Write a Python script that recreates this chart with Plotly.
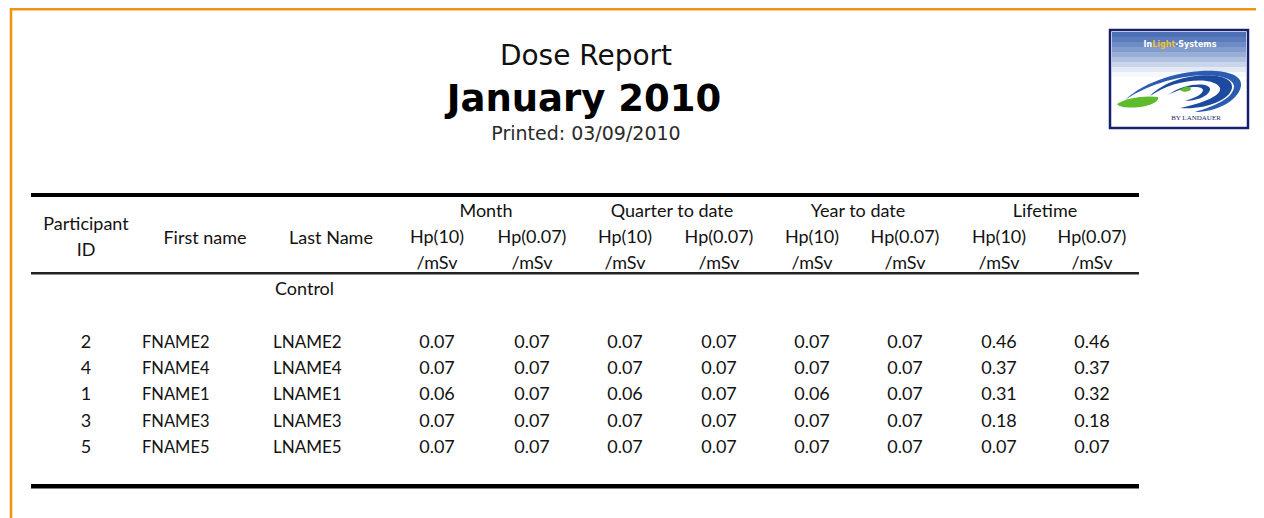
import plotly.graph_objects as go

# ---------------- data ----------------
report_title = "Dose Report"
report_period = "January 2010"
printed_label = "Printed: 03/09/2010"

group_labels = ["Month", "Quarter to date", "Year to date", "Lifetime"]
dose_labels = ["Hp(10)", "Hp(0.07)"]
unit_label = "/mSv"
section_label = "Control"

participant_ids = ["2", "4", "1", "3", "5"]
first_names = ["FNAME2", "FNAME4", "FNAME1", "FNAME3", "FNAME5"]
last_names = ["LNAME2", "LNAME4", "LNAME1", "LNAME3", "LNAME5"]
month_hp10 = [0.07, 0.07, 0.06, 0.07, 0.07]
month_hp007 = [0.07, 0.07, 0.07, 0.07, 0.07]
quarter_hp10 = [0.07, 0.07, 0.06, 0.07, 0.07]
quarter_hp007 = [0.07, 0.07, 0.07, 0.07, 0.07]
year_hp10 = [0.07, 0.07, 0.06, 0.07, 0.07]
year_hp007 = [0.07, 0.07, 0.07, 0.07, 0.07]
life_hp10 = [0.46, 0.37, 0.31, 0.18, 0.07]
life_hp007 = [0.46, 0.37, 0.32, 0.18, 0.07]

# ---------------- layout constants ----------------
OFF = 8  # page body margin
W, H = 1264, 518
DY = 2.5  # text baseline correction
TXT = "#121212"
TFONT = "Lato, 'Liberation Sans', sans-serif"
HSIZE = 18
row_y = [341, 367, 393, 420, 446]
dose_cols_x = [437, 532, 625, 719, 812, 905, 999, 1092]
group_x = [486, 672, 858, 1045]

fig = go.Figure()


def add_text(xs, ys, texts, pos="middle center", size=HSIZE, color=TXT, family=TFONT):
    fig.add_trace(go.Scatter(
        x=xs, y=[v + DY for v in ys], text=texts, mode="text", textposition=pos,
        textfont=dict(size=size, color=color, family=family),
        hoverinfo="skip", showlegend=False, cliponaxis=False))


TITLE_FONT = "'DejaVu Sans', Verdana, sans-serif"
# Titles
add_text([586], [55], [report_title], size=28, color="#111", family=TITLE_FONT)
add_text([584], [99], ["<b>%s</b>" % report_period], size=37, color="#000", family=TITLE_FONT)
add_text([586], [133], [printed_label], size=19, color="#2a2a2a", family=TITLE_FONT)

# Header
add_text([86, 86], [223, 249], ["Participant", "ID"])
add_text([205, 331], [237, 237], ["First name", "Last Name"])
add_text(group_x, [210] * 4, group_labels)
add_text(dose_cols_x, [236] * 8, dose_labels * 4)
add_text(dose_cols_x, [261.5] * 8, [unit_label] * 8)
add_text([275], [288], [section_label], pos="middle right")

# Body
add_text([86] * 5, row_y, participant_ids)
add_text([142] * 5, row_y, first_names, pos="middle right", size=16.5)
add_text([273] * 5, row_y, last_names, pos="middle right", size=17)
for cx, series in zip(dose_cols_x, [month_hp10, month_hp007, quarter_hp10, quarter_hp007,
                                     year_hp10, year_hp007, life_hp10, life_hp007]):
    add_text([cx] * 5, row_y, ["%.2f" % v for v in series])

shapes = []
# orange frame
shapes.append(dict(type="path", path="M 11 530 L 11 9.2 L 1259 9.2 L 1259 530",
                   line=dict(color="#ee9412", width=2.6)))
# table rules
shapes.append(dict(type="rect", x0=31, x1=1139, y0=193, y1=197, fillcolor="#000", line_width=0))
shapes.append(dict(type="rect", x0=31, x1=1139, y0=272, y1=274.5, fillcolor="#222", line_width=0))
shapes.append(dict(type="rect", x0=31, x1=1139, y0=484, y1=488.5, fillcolor="#000", line_width=0))

# logo
lx0, ly0, lx1, ly1 = 1110, 30, 1248, 128
grad = ["#4d6fb5", "#5b7cbc", "#6d8bc4", "#829ccd", "#98aed7", "#b0c1e1", "#c9d5eb", "#e2e9f5", "#f6f8fc"]
step = 5
for i, c in enumerate(grad):
    shapes.append(dict(type="rect", x0=lx0 + 2, x1=lx1 - 2, y0=ly0 + 2 + i * step,
                       y1=ly0 + 2 + (i + 1) * step, fillcolor=c, line_width=0, layer="below"))
blue = "#1d4a9e"
shapes.append(dict(type="path", path="M 1150 96 C 1175 70, 1235 70, 1232 88 C 1230 100, 1205 110, 1180 108 C 1200 104, 1222 96, 1220 88 C 1215 76, 1175 78, 1150 96 Z",
                   fillcolor=blue, line_width=0))
shapes.append(dict(type="path", path="M 1125 100 C 1160 66, 1245 62, 1241 86 C 1238 102, 1215 112, 1195 112 C 1215 106, 1234 98, 1234 86 C 1232 70, 1170 70, 1125 100 Z",
                   fillcolor="#2b5cb0", line_width=0))
shapes.append(dict(type="path", path="M 1168 95 C 1185 82, 1212 82, 1210 90 C 1208 97, 1195 101, 1185 101 C 1195 98, 1203 94, 1203 90 C 1202 85, 1185 86, 1168 95 Z",
                   fillcolor=blue, line_width=0))
shapes.append(dict(type="path", path="M 1117 104 C 1125 98, 1145 95, 1158 97 C 1160 101, 1150 106, 1140 107 C 1130 108, 1120 108, 1117 104 Z",
                   fillcolor="#5dbb2e", line_width=0))
shapes.append(dict(type="path", path="M 1180 90 C 1184 86, 1190 86, 1191 89 C 1190 92, 1183 93, 1180 90 Z",
                   fillcolor="#5dbb2e", line_width=0))
shapes.append(dict(type="rect", x0=lx0, x1=lx1, y0=ly0, y1=ly1, line=dict(color="#16206e", width=2.5)))

fig.add_trace(go.Scatter(
    x=[1180], y=[45], mode="text",
    text=["<b>In<span style='color:#f2c230'>Light</span>·Systems</b>"],
    textfont=dict(size=8, color="#ffffff", family="'DejaVu Sans', sans-serif"),
    hoverinfo="skip", showlegend=False))
fig.add_trace(go.Scatter(
    x=[1196], y=[118], mode="text", text=["BY LANDAUER"],
    textfont=dict(size=7, color="#1a2a6e", family="'Liberation Serif', serif"),
    hoverinfo="skip", showlegend=False))

fig.update_layout(
    width=W - OFF, height=H - OFF, margin=dict(l=0, r=0, t=0, b=0),
    paper_bgcolor="#ffffff", plot_bgcolor="#ffffff",
    xaxis=dict(range=[OFF, W], visible=False, fixedrange=True),
    yaxis=dict(range=[H, OFF], visible=False, fixedrange=True),
    shapes=shapes, showlegend=False,
)

fig.write_html("out.html", config=dict(displayModeBar=False))
